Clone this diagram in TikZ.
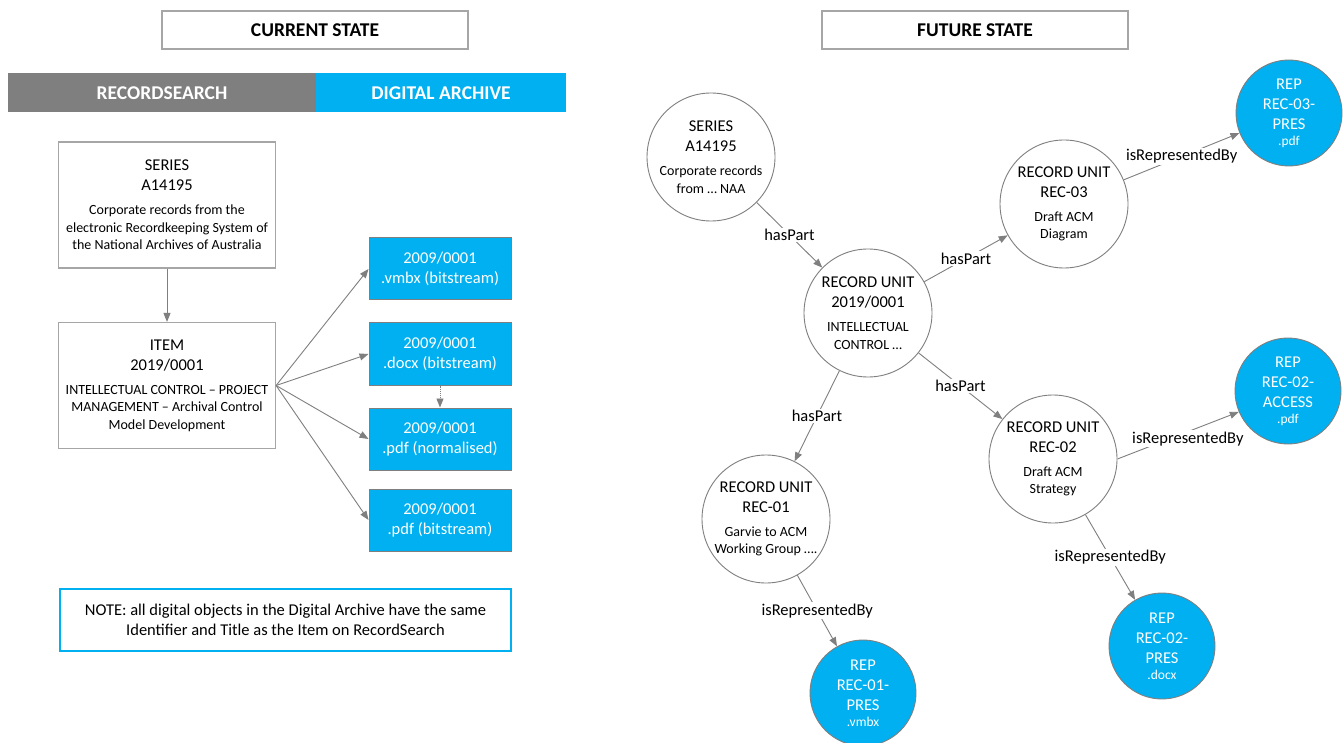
\documentclass[tikz,border=0pt]{standalone}
\usepackage{fontspec}
\setmainfont{Carlito}
\usetikzlibrary{arrows.meta}
\definecolor{nblue}{HTML}{00B0F0}
\definecolor{ngray}{HTML}{7F7F7F}
\definecolor{lgray}{HTML}{A6A6A6}
\newcommand{\bigtxt}{\fontsize{16.5}{20}\selectfont}
\newcommand{\smalltxt}{\fontsize{14}{17.5}\selectfont}
\newcommand{\hdtxt}{\fontsize{19.5}{22}\selectfont\bfseries}
\newcommand{\blk}[3]{\parbox{#1}{\centering\bigtxt #2\par\vspace{6.5pt}\smalltxt #3\par}}
\newcommand{\cblk}[3]{\makebox[0pt]{\blk{#1}{#2}{#3}}}
\newcommand{\repblk}[2]{\makebox[0pt]{\parbox{100pt}{\centering\bigtxt #1\par\vspace{-1pt}\fontsize{13.5}{17}\selectfont #2\par}}}
\begin{document}
\begin{tikzpicture}[x=1pt,y=-1pt,
  hdbox/.style={draw=lgray, line width=1.3pt, minimum width=306pt, minimum height=38pt, inner sep=0pt, font=\hdtxt},
  lbox/.style={draw=lgray, line width=1.2pt, minimum width=217pt, minimum height=126pt, inner sep=0pt, fill=white},
  bbox/.style={draw=ngray, line width=1pt, fill=nblue, text=white, minimum width=142pt, minimum height=62pt, inner sep=0pt, align=center, font=\bigtxt},
  circ/.style={circle, draw=ngray, line width=0.9pt, minimum size=128pt, inner sep=0pt, fill=white},
  rep/.style={circle, draw=ngray, line width=0.9pt, fill=nblue, text=white, minimum size=106pt, inner sep=0pt},
  conn/.style={draw=ngray, line width=0.9pt, -{Triangle[length=9pt,width=7pt]}},
  lab/.style={fill=white, inner sep=1.5pt, font=\bigtxt, text=black}
]
\useasboundingbox (0,0) rectangle (1344,743);
\fill[white] (0,0) rectangle (1344,743);

% headers
\node[hdbox] (cur) at (315,30) {CURRENT STATE};
\node[hdbox] (fut) at (975,30) {FUTURE STATE};

% banner
\fill[ngray] (8,73) rectangle (316,112);
\fill[nblue] (316,73) rectangle (566,112);
\node[text=white, font=\hdtxt] (rs) at (162,93) {RECORDSEARCH};
\node[text=white, font=\hdtxt] (da) at (441,93) {DIGITAL ARCHIVE};

% left boxes
\node[lbox] (series) at (167,205) {\blk{212pt}{SERIES\\A14195}{Corporate records from the\\electronic Recordkeeping System of\\the National Archives of Australia}};
\node[lbox] (item) at (167,385.5) {\blk{212pt}{ITEM\\2019/0001}{INTELLECTUAL CONTROL -- PROJECT\\MANAGEMENT -- Archival Control\\Model Development}};

\node[bbox] (b1) at (440,269) {2009/0001\\.vmbx (bitstream)};
\node[bbox] (b2) at (440,354) {2009/0001\\.docx (bitstream)};
\node[bbox] (b3) at (440,439) {2009/0001\\.pdf (normalised)};
\node[bbox] (b4) at (440,520) {2009/0001\\.pdf (bitstream)};

\draw[conn] (series) -- (item);
\draw[conn] (item.east) -- (b1.west);
\draw[conn] (item.east) -- (b2.west);
\draw[conn] (item.east) -- (b3.west);
\draw[conn] (item.east) -- (b4.west);
\draw[conn, densely dotted] (b2) -- (b3);

\node[draw=nblue, line width=1.4pt, minimum width=451pt, minimum height=62pt, align=center, font=\bigtxt] (note) at (285.5,620) {NOTE: all digital objects in the Digital Archive have the same\\Identifier and Title as the Item on RecordSearch};

% right graph
\node[circ] (cs) at (711,157) {\cblk{120pt}{SERIES\\A14195}{Corporate records\\from \dots{} NAA}};
\node[circ] (cru) at (868,313) {\cblk{120pt}{RECORD UNIT\\2019/0001}{INTELLECTUAL\\CONTROL \dots}};
\node[circ] (c03) at (1064,204) {\cblk{120pt}{RECORD UNIT\\REC-03}{Draft ACM\\Diagram}};
\node[circ] (c01) at (766,519) {\cblk{124pt}{RECORD UNIT\\REC-01}{Garvie to ACM\\Working Group \dots.}};
\node[circ] (c02) at (1053,459) {\cblk{120pt}{RECORD UNIT\\REC-02}{Draft ACM\\Strategy}};

\node[rep] (r03) at (1289,113) {\repblk{REP\\REC-03-\\PRES}{.pdf}};
\node[rep] (r01) at (863,693) {\repblk{REP\\REC-01-\\PRES}{.vmbx}};
\node[rep] (r02a) at (1288,391) {\repblk{REP\\REC-02-\\ACCESS}{.pdf}};
\node[rep] (r02p) at (1162,646) {\repblk{REP\\REC-02-\\PRES}{.docx}};

\draw[conn] (cs) -- node[lab]{hasPart} (cru);
\draw[conn] (cru) -- node[lab]{hasPart} (c03);
\draw[conn] (cru) -- node[lab]{hasPart} (c02);
\draw[conn] (cru) -- node[lab]{hasPart} (c01);
\draw[conn] (c03) -- node[lab]{isRepresentedBy} (r03);
\draw[conn] (c01) -- node[lab]{isRepresentedBy} (r01);
\draw[conn] (c02.east) -- node[lab, pos=0.58, yshift=-7pt]{isRepresentedBy} (r02a.203);
\draw[conn] (c02) -- node[lab]{isRepresentedBy} (r02p);
\end{tikzpicture}
\end{document}
